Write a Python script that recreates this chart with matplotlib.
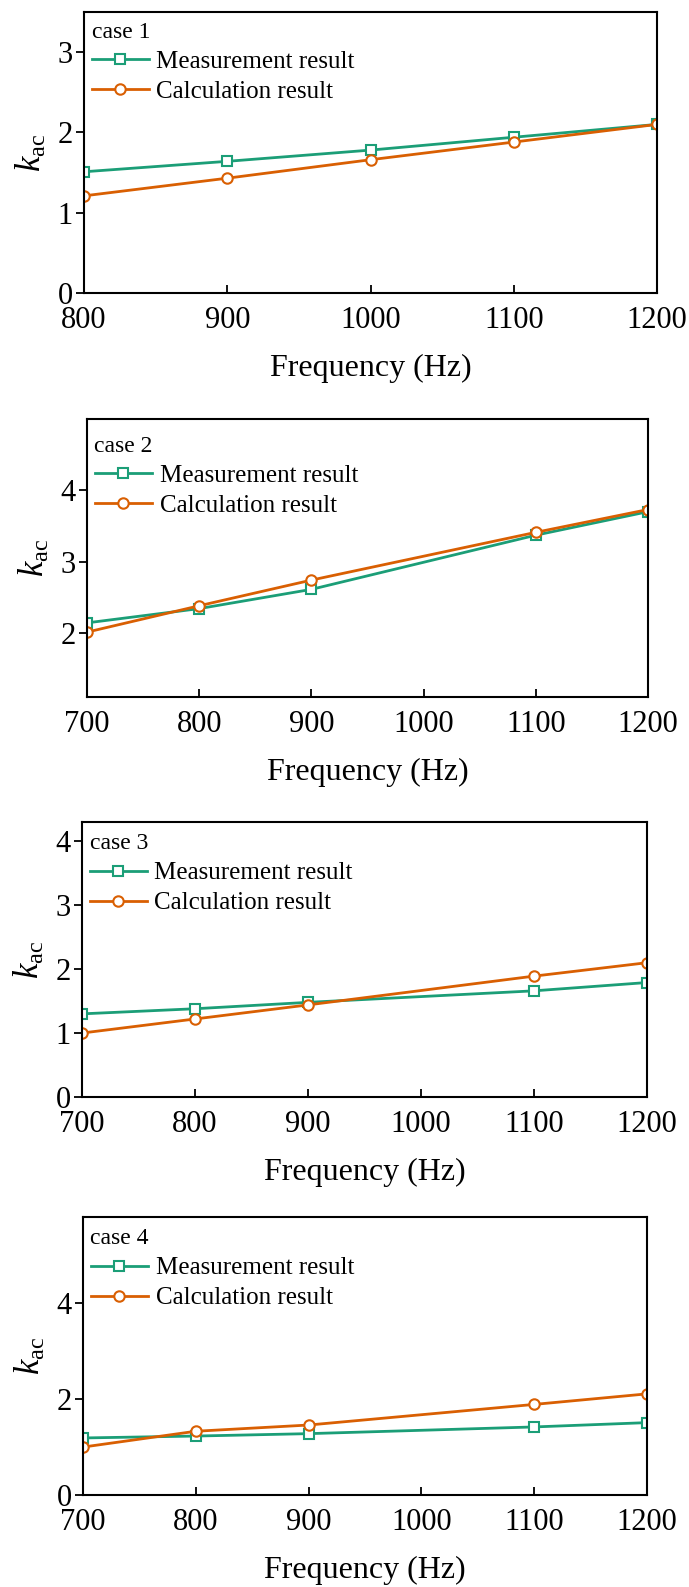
import numpy as np
import matplotlib.pyplot as plt

plt.rcParams['font.family'] = ['Liberation Serif', 'DejaVu Serif']
plt.rcParams['mathtext.fontset'] = 'custom'
plt.rcParams['mathtext.rm'] = 'Liberation Serif'
plt.rcParams['mathtext.it'] = 'Liberation Serif:italic'

# data
freq1 = [800, 900, 1000, 1100, 1200]
freq = [700, 800, 900, 1100, 1200]

meas1 = [1.51, 1.64, 1.78, 1.94, 2.10]
calc1 = [1.21, 1.43, 1.66, 1.88, 2.10]
meas2 = [2.14, 2.34, 2.61, 3.37, 3.70]
calc2 = [2.01, 2.38, 2.74, 3.41, 3.73]
meas3 = [1.30, 1.38, 1.48, 1.66, 1.79]
calc3 = [1.00, 1.22, 1.44, 1.89, 2.10]
meas4 = [1.19, 1.23, 1.28, 1.42, 1.51]
calc4 = [1.00, 1.33, 1.46, 1.89, 2.11]

cases = ['case 1', 'case 2', 'case 3', 'case 4']
xs = [freq1, freq, freq, freq]
meas = [meas1, meas2, meas3, meas4]
calc = [calc1, calc2, calc3, calc4]
xlims = [(800, 1200), (700, 1200), (700, 1200), (700, 1200)]
xticks = [np.arange(800, 1201, 100), np.arange(700, 1201, 100),
          np.arange(700, 1201, 100), np.arange(700, 1201, 100)]
ylims = [(0, 3.5), (1.1, 5.0), (0, 4.3), (0, 5.8)]
yticks = [[0, 1, 2, 3], [2, 3, 4], [0, 1, 2, 3, 4], [0, 2, 4]]

# axes boxes in pixels: left, right, top, bottom
boxes = [(84, 657, 12, 293), (87, 648, 419, 697),
         (82, 647, 822, 1097), (83, 647, 1217, 1495)]
# extra downward shift of the legend, pixels
leg_shift = [2, 9, 4, 4]

W, H = 689, 1587
green = '#1b9e77'
orange = '#d95f02'

fig = plt.figure(figsize=(W / 100, H / 100), dpi=100)

for i in range(4):
    l, r, t, b = boxes[i]
    ax = fig.add_axes([l / W, 1 - b / H, (r - l) / W, (b - t) / H])
    ax.plot(xs[i], meas[i], color=green, lw=2, marker='s', ms=6.5,
            mfc='white', mec=green, mew=1.5, label='Measurement result')
    ax.plot(xs[i], calc[i], color=orange, lw=2, marker='o', ms=7.5,
            mfc='white', mec=orange, mew=1.5, label='Calculation result')
    ax.set_xlim(*xlims[i])
    ax.set_ylim(*ylims[i])
    ax.set_xticks(xticks[i])
    ax.set_yticks(yticks[i])
    ax.tick_params(axis='x', direction='in', length=6, width=1.3, pad=9, labelsize=22)
    ax.tick_params(axis='y', direction='out', length=6, width=1.3, pad=2, labelsize=22)
    for s in ax.spines.values():
        s.set_linewidth(1.5)
    ax.set_xlabel('Frequency (Hz)', fontsize=23, labelpad=14)
    ax.set_ylabel(r'$k_{\mathrm{ac}}$', fontsize=25, labelpad=6)
    yanc = 1 - leg_shift[i] / (b - t)
    leg = ax.legend(loc='upper left', bbox_to_anchor=(0, yanc), frameon=False,
                    title=cases[i], fontsize=18, title_fontsize=17,
                    handlelength=2.3, handletextpad=0.3, labelspacing=0.3,
                    borderaxespad=0.1, borderpad=0.2)
    leg._legend_box.align = 'left'

plt.savefig('out.png', dpi=100)
